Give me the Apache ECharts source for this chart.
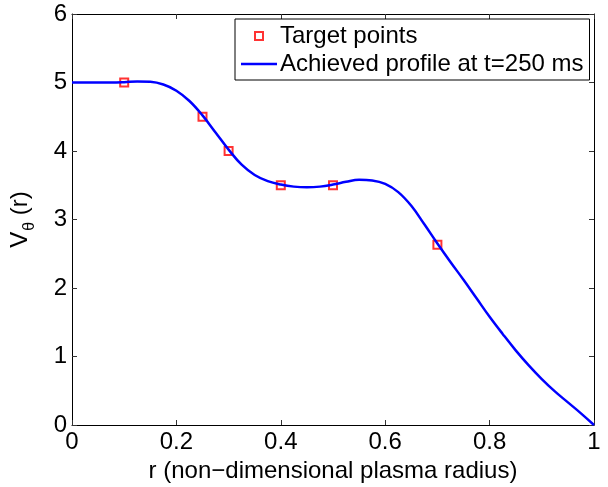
<!DOCTYPE html>
<html>
<head>
<meta charset="utf-8">
<script src="https://cdn.jsdelivr.net/npm/echarts@6/dist/echarts.min.js"></script>
<style>
html,body{margin:0;padding:0;background:#fff;}
#chart{width:608px;height:487px;}
</style>
</head>
<body>
<div id="chart"></div>
<script>
// Target points
var targetR = [0.1, 0.25, 0.3, 0.4, 0.5, 0.7];
var targetV = [5.0, 4.5, 4.0, 3.5, 3.5, 2.63];

// Achieved profile at t=250 ms
var profileR = [0, 0.025, 0.05, 0.075, 0.1, 0.125, 0.15, 0.175, 0.2, 0.225,
  0.25, 0.275, 0.3, 0.325, 0.35, 0.375, 0.4, 0.425, 0.45, 0.475,
  0.5, 0.525, 0.55, 0.575, 0.6, 0.625, 0.65, 0.675, 0.7, 0.725,
  0.75, 0.775, 0.8, 0.825, 0.85, 0.875, 0.9, 0.925, 0.95, 0.975, 1.0];
var profileV = [5.00, 5.00, 5.00, 5.00, 5.005, 5.015, 5.01, 4.97, 4.88, 4.73,
  4.52, 4.27, 4.02, 3.80, 3.65, 3.56, 3.51, 3.48, 3.47, 3.48,
  3.51, 3.55, 3.58, 3.57, 3.52, 3.40, 3.20, 2.93, 2.65, 2.38,
  2.12, 1.85, 1.58, 1.33, 1.09, 0.87, 0.67, 0.49, 0.33, 0.17, 0.0];

var xTicks = ['0', '0.2', '0.4', '0.6', '0.8', '1'];
var yTicks = ['0', '1', '2', '3', '4', '5', '6'];

var seriesNames = ['Target points', 'Achieved profile at t=250 ms'];
var xLabel = 'r (non\u2212dimensional plasma radius)';

var FONT = 'Liberation Sans';
var chart = echarts.init(document.getElementById('chart'), null, {renderer: 'canvas'});

function pairs(a, b) { return a.map(function (v, i) { return [v, b[i]]; }); }

var tickStyle = {show: true, inside: true, length: 5, lineStyle: {color: '#333', width: 1}};
var lineStyle = {show: true, onZero: false, lineStyle: {color: '#000', width: 1}};

var option = {
  animation: false,
  backgroundColor: '#fff',
  grid: {left: 72, right: 14, top: 14, bottom: 62, containLabel: false, outerBoundsMode: 'none'},
  textStyle: {fontFamily: FONT},
  legend: {
    orient: 'vertical',
    left: 235, top: 19,
    width: 354,
    padding: [5, 6, 4, 6],
    itemGap: 4,
    itemWidth: 36, itemHeight: 8,
    symbolKeepAspect: true,
    borderColor: '#000', borderWidth: 1,
    backgroundColor: '#fff',
    textStyle: {fontFamily: FONT, fontSize: 24, color: '#000', padding: [0, 0, 0, -2], lineHeight: 24},
    data: [
      {name: seriesNames[0], icon: 'path://M0,0L10,0L10,10L0,10Z',
       itemStyle: {color: '#fff', borderColor: '#ff0000', borderWidth: 2}},
      {name: seriesNames[1], icon: 'path://M0,0L36,0L36,2.5L0,2.5Z',
       itemStyle: {color: '#0000ff', borderWidth: 0}}
    ]
  },
  xAxis: [
    {type: 'value', min: 0, max: 1, interval: 0.2, position: 'bottom',
     axisLine: lineStyle, axisTick: tickStyle, splitLine: {show: false},
     axisLabel: {fontFamily: FONT, fontSize: 24, color: '#000', margin: 5,
       formatter: function (v) { return xTicks[Math.round(v / 0.2)]; }},
     name: xLabel, nameLocation: 'middle', nameGap: 32,
     nameTextStyle: {fontFamily: FONT, fontSize: 24, color: '#000'}},
    {type: 'value', min: 0, max: 1, interval: 0.2, position: 'top',
     axisLine: lineStyle, axisTick: tickStyle, axisLabel: {show: false}, splitLine: {show: false}}
  ],
  yAxis: [
    {type: 'value', min: 0, max: 6, interval: 1, position: 'left',
     axisLine: lineStyle, axisTick: tickStyle, splitLine: {show: false},
     axisLabel: {fontFamily: FONT, fontSize: 24, color: '#000', margin: 5,
       formatter: function (v) { return yTicks[Math.round(v)]; }},
     name: '{a|V}{b|\u03b8}{a| (r)}', nameLocation: 'middle', nameRotate: 90, nameGap: 34,
     nameTextStyle: {
       rich: {
         a: {fontFamily: FONT, fontSize: 24, color: '#000', verticalAlign: 'top'},
         b: {fontFamily: FONT, fontSize: 16, color: '#000', verticalAlign: 'top', padding: [14, 0, 0, 1]}
       }
     }},
    {type: 'value', min: 0, max: 6, interval: 1, position: 'right',
     axisLine: lineStyle, axisTick: tickStyle, axisLabel: {show: false}, splitLine: {show: false}}
  ],
  series: [
    {name: seriesNames[0], type: 'scatter', xAxisIndex: 0, yAxisIndex: 0, z: 3,
     symbol: 'rect', symbolSize: 8,
     itemStyle: {color: '#fff', borderColor: '#ff0000', borderWidth: 2},
     data: pairs(targetR, targetV)},
    {name: seriesNames[1], type: 'line', xAxisIndex: 0, yAxisIndex: 0, z: 4,
     symbol: 'none', smooth: 0.4,
     lineStyle: {color: '#0000ff', width: 2.5},
     itemStyle: {color: '#0000ff'},
     data: pairs(profileR, profileV)}
  ]
};
chart.setOption(option);
</script>
</body>
</html>
